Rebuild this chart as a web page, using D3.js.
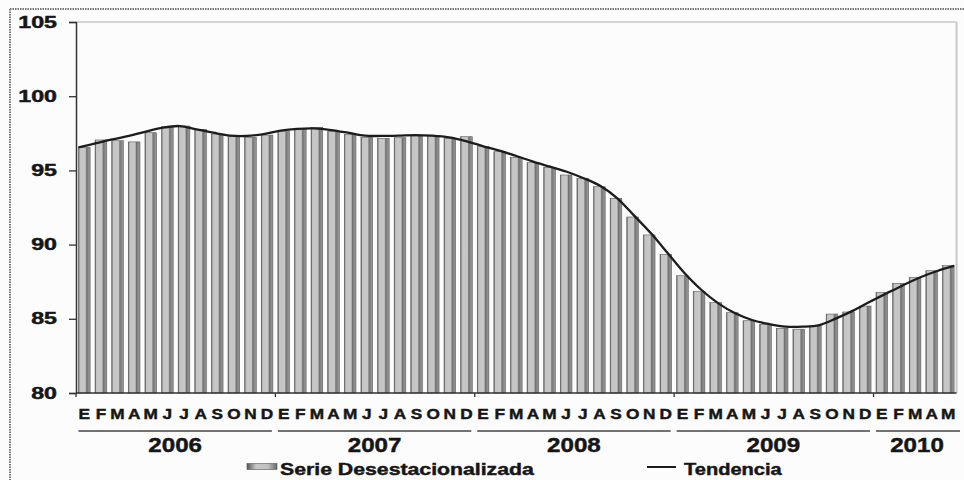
<!DOCTYPE html>
<html>
<head>
<meta charset="utf-8">
<script src="https://cdn.jsdelivr.net/npm/d3@7"></script>
<style>
  html, body { margin: 0; padding: 0; background: #fcfcfc; }
  svg { display: block; }
  text { font-family: "Liberation Sans", Arial, sans-serif; font-weight: bold; fill: #161616;
         stroke: #161616; stroke-width: 0.45px; }
</style>
</head>
<body>
<svg id="chart" width="964" height="480"></svg>
<script>
// Monthly index, January 2006 – May 2010
const years = ["2006", "2007", "2008", "2009", "2010"];
const monthLetters = ["E", "F", "M", "A", "M", "J", "J", "A", "S", "O", "N", "D"];
const monthsPerYear = [12, 12, 12, 12, 5];

// Seasonally adjusted series (bars)
const serieDesestacionalizada = [
  96.55, 97.05, 97.0, 96.92, 97.54, 97.94, 97.99, 97.77, 97.45, 97.27, 97.23, 97.38,
  97.61, 97.83, 97.9, 97.61, 97.43, 97.23, 97.16, 97.2, 97.32, 97.32, 97.16, 97.27,
  96.6, 96.26, 95.88, 95.52, 95.21, 94.69, 94.47, 93.9, 93.12, 91.86, 90.65, 89.34,
  87.9, 86.83, 86.09, 85.41, 84.87, 84.63, 84.36, 84.3, 84.51, 85.32, 85.46, 85.86,
  86.79, 87.39, 87.8, 88.24, 88.58
];

// Trend (line)
const tendencia = [
  96.55, 96.82, 97.09, 97.32, 97.61, 97.88, 97.99, 97.77, 97.54, 97.34, 97.32, 97.45,
  97.68, 97.8, 97.83, 97.72, 97.54, 97.34, 97.32, 97.34, 97.38, 97.34, 97.23, 96.98,
  96.64, 96.33, 95.97, 95.59, 95.25, 94.91, 94.47, 93.95, 93.12, 91.95, 90.76, 89.41,
  88.07, 86.94, 86.04, 85.37, 84.92, 84.65, 84.47, 84.47, 84.58, 85.03, 85.55, 86.15,
  86.72, 87.28, 87.8, 88.22, 88.56
];

const yTicks = [80, 85, 90, 95, 100, 105];

const svg = d3.select("#chart");
const W = 964, H = 480;
const plot = { left: 76, right: 956.6, top: 22, bottom: 393 };

// helper: horizontally widened bold text
function wideText(g, x, y, str, size, sx, anchor) {
  return g.append("text")
    .attr("transform", `translate(${x},${y}) scale(${sx},1)`)
    .attr("text-anchor", anchor)
    .style("font-size", size + "px")
    .text(str);
}

// outer dotted frame (top and left edges)
svg.append("line").attr("x1", 10).attr("x2", W).attr("y1", 9).attr("y2", 9)
  .attr("stroke", "#777").attr("stroke-width", 2).attr("stroke-dasharray", "1.5,1");
svg.append("line").attr("x1", 10).attr("x2", 10).attr("y1", 9).attr("y2", H)
  .attr("stroke", "#777").attr("stroke-width", 2).attr("stroke-dasharray", "1.5,1");

const idx = d3.range(serieDesestacionalizada.length);
const x = d3.scaleBand().domain(idx).range([plot.left, plot.right])
  .paddingInner(0.3).paddingOuter(0.15);
const step = x.step();
const y = d3.scaleLinear().domain([80, 105]).range([plot.bottom, plot.top]);

// the trend runs on its own point axis, from the first bar's left edge to the last bar's right edge
const xLine = d3.scalePoint().domain(idx)
  .range([x(0), x(idx.length - 1) + x.bandwidth()]);

// bar gradient
const defs = svg.append("defs");
const grad = defs.append("linearGradient").attr("id", "barGrad")
  .attr("x1", "0%").attr("x2", "100%").attr("y1", "0%").attr("y2", "0%");
[["0%", "#4c4c4c"], ["12%", "#c4c4c4"], ["58%", "#c8c8c8"], ["70%", "#727272"],
 ["86%", "#8c8c8c"], ["100%", "#9a9a9a"]].forEach(([o, c]) =>
  grad.append("stop").attr("offset", o).attr("stop-color", c));

// plot frame (light top/right edges)
svg.append("line").attr("x1", plot.left).attr("x2", plot.right)
  .attr("y1", plot.top).attr("y2", plot.top).attr("stroke", "#c8c8c8").attr("stroke-width", 1.5);
svg.append("line").attr("x1", plot.right).attr("x2", plot.right)
  .attr("y1", plot.top).attr("y2", plot.bottom).attr("stroke", "#c8c8c8").attr("stroke-width", 2);

// bars
svg.append("g").selectAll("rect").data(idx).join("rect")
  .attr("x", i => x(i))
  .attr("width", x.bandwidth())
  .attr("y", i => y(serieDesestacionalizada[i]))
  .attr("height", i => y(80) - y(serieDesestacionalizada[i]))
  .attr("fill", "url(#barGrad)")
  .attr("stroke", "#5a5a5a").attr("stroke-width", 0.6);

// trend line
const line = d3.line()
  .x(i => xLine(i))
  .y(i => y(tendencia[i]))
  .curve(d3.curveCatmullRom.alpha(0.5));
svg.append("path").datum(idx).attr("d", line)
  .attr("fill", "none").attr("stroke", "#1c1c1c").attr("stroke-width", 2.3);

// y axis
const yAxisG = svg.append("g").attr("transform", `translate(${plot.left},0)`)
  .call(d3.axisLeft(y).tickValues(yTicks).tickSize(7).tickFormat(""));
yAxisG.select(".domain").attr("stroke", "#333").attr("stroke-width", 1.5);
yAxisG.selectAll(".tick line").attr("stroke", "#333").attr("stroke-width", 1.3);
yTicks.forEach(v => wideText(svg, 57, y(v) + 5.6, String(v), 16, 1.45, "end"));

// x axis baseline with year-boundary ticks
svg.append("line").attr("x1", plot.left).attr("x2", plot.right)
  .attr("y1", plot.bottom).attr("y2", plot.bottom).attr("stroke", "#333").attr("stroke-width", 1.5);
let start = 0;
const yearStarts = monthsPerYear.map(n => { const s = start; start += n; return s; });
yearStarts.forEach(s => {
  const bx = plot.left + s * step;
  svg.append("line").attr("x1", bx).attr("x2", bx).attr("y1", plot.bottom).attr("y2", plot.bottom + 4)
    .attr("stroke", "#333").attr("stroke-width", 1.3);
});

// month letters
idx.forEach(i => {
  const letter = monthLetters[i % 12];
  wideText(svg, x(i) + x.bandwidth() / 2, 419, letter, 15, 1.15, "middle");
});

// year group lines and labels
years.forEach((yr, k) => {
  const x0 = plot.left + yearStarts[k] * step;
  const x1 = plot.left + (yearStarts[k] + monthsPerYear[k]) * step;
  const last = k === years.length - 1;
  const lx0 = x0 + 2.5, lx1 = last ? 960 : x1 - 3.5;
  svg.append("line").attr("x1", lx0).attr("x2", lx1).attr("y1", 431).attr("y2", 431)
    .attr("stroke", "#444").attr("stroke-width", 1.3);
  wideText(svg, (lx0 + lx1) / 2 - (last ? 1 : 0), 451.5, yr, 21, 1.15, "middle");
});

// legend
const lg = defs.append("linearGradient").attr("id", "legGrad")
  .attr("x1", "0%").attr("x2", "100%").attr("y1", "0%").attr("y2", "0%");
[["0%", "#555"], ["30%", "#c8c8c8"], ["70%", "#c0c0c0"], ["100%", "#666"]].forEach(([o, c]) =>
  lg.append("stop").attr("offset", o).attr("stop-color", c));
svg.append("rect").attr("x", 247).attr("y", 463.5).attr("width", 30).attr("height", 6)
  .attr("fill", "url(#legGrad)").attr("stroke", "#555").attr("stroke-width", 0.6);
wideText(svg, 280, 474.5, "Serie Desestacionalizada", 17, 1.25, "start");
svg.append("line").attr("x1", 647).attr("x2", 676).attr("y1", 467).attr("y2", 467)
  .attr("stroke", "#1c1c1c").attr("stroke-width", 2);
wideText(svg, 684, 474.5, "Tendencia", 17, 1.18, "start");
</script>
</body>
</html>
